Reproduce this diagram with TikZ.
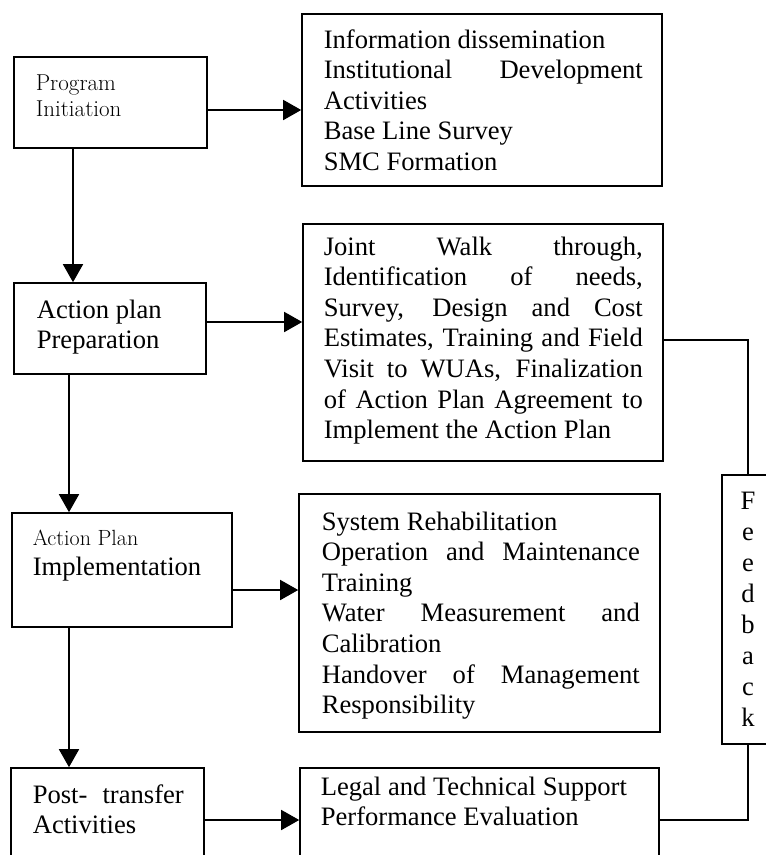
\documentclass[tikz,border=0pt]{standalone}
\usepackage{fontspec}
\newfontfamily\tnr{Liberation Serif}
\usetikzlibrary{arrows.meta,calc}
\newcommand{\jline}[1]{\makebox[\linewidth][s]{\spaceskip=0pt\xspaceskip=0pt #1}}

\begin{document}
\begin{tikzpicture}[x=1pt,y=-1pt,line width=1.6pt,line cap=rect,
    >={Triangle[length=18pt,width=20pt]},
    box/.style={draw,rectangle,inner sep=0pt},
    txt/.style={anchor=base west,inner sep=0pt,align=flush left,
                font=\tnr\fontsize{26.6}{30.6}\selectfont},
    small/.style={font=\fontsize{23}{26}\selectfont},
    link/.style={line width=1.4pt}]
  \useasboundingbox (0,0) rectangle (766,855);
  \clip (0,0) rectangle (766,855);
  % etapas (columna izquierda)
  \node[box,minimum width=193,minimum height=91] (prog) at (110.5,102.5) {};
  \node[box,minimum width=192,minimum height=91] (prep) at (110,328.5) {};
  \node[box,minimum width=220,minimum height=114] (impl) at (122,570) {};
  \node[box,minimum width=193,minimum height=112] (post) at (107.5,824) {};
  \node[txt,small,text width=160] (progtxt) at (35,90) {Program\\Initiation};
  \node[txt,text width=160] (preptxt) at (36,318) {Action plan\\Preparation};
  \node[txt,text width=190] (impltxt) at (32,545)
       {{\rmfamily\fontsize{22}{26}\selectfont Action Plan}\\Implementation};
  \node[txt,text width=151] (posttxt) at (32,803)
       {\jline{Post- transfer}\\Activities};
  % actividades (columna derecha)
  \node[box,minimum width=360,minimum height=172] (info) at (482,100) {};
  \node[box,minimum width=360,minimum height=237] (joint) at (483,342.5) {};
  \node[box,minimum width=361,minimum height=238] (sys) at (479.5,613) {};
  \node[box,minimum width=359,minimum height=112] (legal) at (479.5,824) {};
  \node[txt,text width=319] (infotxt) at (323,48)
       {Information dissemination\\\jline{Institutional Development}\\
        Activities\\Base Line Survey\\SMC Formation};
  \node[txt,text width=319] (jointtxt) at (323,255)
       {\jline{Joint Walk through,}\\\jline{Identification of needs,}\\
        \jline{Survey, Design and Cost}\\\jline{Estimates, Training and Field}\\
        \jline{Visit to WUAs, Finalization}\\\jline{of Action Plan Agreement to}\\
        Implement the Action Plan};
  \node[txt,text width=318] (systxt) at (321,530)
       {System Rehabilitation\\\jline{Operation and Maintenance}\\Training\\
        \jline{Water Measurement and}\\Calibration\\
        \jline{Handover of Management}\\Responsibility};
  \node[txt,text width=319] (legaltxt) at (320,795)
       {Legal and Technical Support\\Performance Evaluation};
  % retroalimentacion
  \node[box,minimum width=52,minimum height=269,align=center,
        font=\tnr\fontsize{26.6}{31}\selectfont] (fb) at (748,609.5)
       {F\\e\\e\\d\\b\\a\\c\\k};
  % flechas horizontales
  \coordinate (h1) at ($(prog.east)+(0,7.5)$);
  \coordinate (h2) at ($(prep.east)+(0,-6.5)$);
  \coordinate (h3) at ($(impl.east)+(0,20)$);
  \coordinate (h4) at ($(post.east)+(0,-4)$);
  \draw[->] (h1) -- (h1 -| info.west);
  \draw[->] (h2) -- (h2 -| joint.west);
  \draw[->] (h3) -- (h3 -| sys.west);
  \draw[->] (h4) -- (h4 -| legal.west);
  % flechas verticales
  \coordinate (v1) at ($(prog.south)+(-37.5,0)$);
  \coordinate (v2) at ($(prep.south)+(-41,0)$);
  \coordinate (v3) at ($(impl.south)+(-53,0)$);
  \draw[->] (v1) -- (v1 |- prep.north);
  \draw[->] (v2) -- (v2 |- impl.north);
  \draw[->] (v3) -- (v3 |- post.north);
  % lazo de retroalimentacion
  \draw[link] ($(joint.east)+(0,-2.5)$) -| (fb.north);
  \draw[link] ($(legal.east)+(0,-4)$) -| (fb.south);
\end{tikzpicture}
\end{document}
